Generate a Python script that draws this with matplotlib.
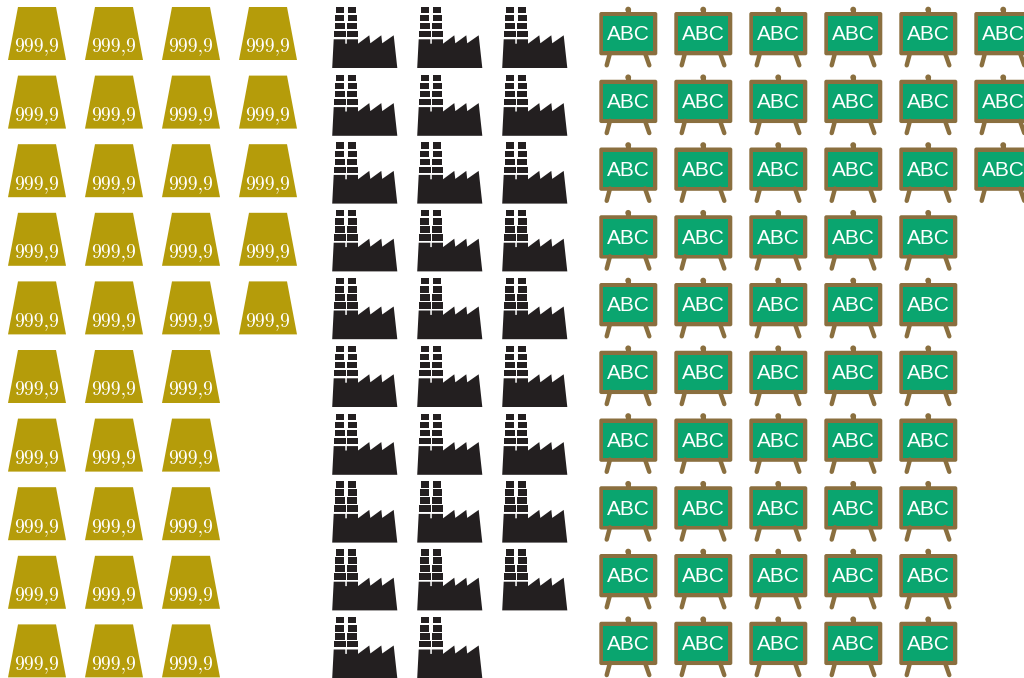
import matplotlib
matplotlib.use("Agg")
import matplotlib.pyplot as plt
from matplotlib.patches import Polygon, FancyBboxPatch, Circle, Rectangle

# Number of pictograms in each row, top to bottom
gold_counts = [4, 4, 4, 4, 4, 3, 3, 3, 3, 3]
factory_counts = [3, 3, 3, 3, 3, 3, 3, 3, 3, 2]
board_counts = [6, 6, 6, 5, 5, 5, 5, 5, 5, 5]
gold_label = "999,9"
board_label = "ABC"

GOLD = "#B59C0A"
BLACK = "#231F20"
WOOD = "#8A6F3F"
GREEN = "#0AA56F"

fig = plt.figure(figsize=(10.24, 6.78), dpi=100, facecolor="white")
ax = fig.add_axes([0, 0, 1, 1])
ax.set_xlim(0, 1024)
ax.set_ylim(678, 0)
ax.axis("off")


def poly(x, y, pts, color):
    ax.add_patch(Polygon([(x + a, y + b) for a, b in pts], closed=True,
                         facecolor=color, edgecolor="none"))


def gold(x, y):
    poly(x, y, [(0, 53), (10, 0), (48, 0), (58, 53)], GOLD)
    ax.text(x + 29, y + 44.6, gold_label, color="white", ha="center", va="baseline",
            family="cmr10", fontsize=14.2)


def factory(x, y):
    body = [(0.2, 61), (1.7, 32.3), (13.3, 32.3), (13.3, 36.7), (14.8, 36.7), (14.8, 32.3),
            (26, 32.3), (26, 36.7), (37.3, 28.3), (38.3, 36.3), (49.3, 28.3),
            (50.2, 36.3), (61.7, 28.3), (65.3, 61)]
    poly(x, y, body, BLACK)
    bricks = [(-0.2, 6.1, 4.0, 12.0, 15.7, 23.6), (7.9, 14.4, 3.4, 12.2, 15.6, 24.6),
              (15.9, 22.4, 2.7, 13.0, 15.0, 25.3), (23.9, 30.3, 2.0, 13.5, 14.5, 26.0)]
    for t, b, l1, r1, l2, r2 in bricks:
        for l, r in ((l1, r1), (l2, r2)):
            poly(x, y, [(l, t), (r, t), (r, b), (l, b)], BLACK)


def board(x, y):
    for x0, x1 in ((11, 7.7), (46, 50.3)):
        ax.plot([x + x0, x + x1], [y + 46, y + 58.3], color=WOOD, lw=3.2,
                solid_capstyle="round")
    ax.add_patch(Circle((x + 29.2, y + 2.6), 2.9, facecolor=WOOD, edgecolor="none"))
    ax.add_patch(Rectangle((x + 26.6, y + 2.6), 5.2, 4, facecolor=WOOD, edgecolor="none"))
    ax.add_patch(FancyBboxPatch((x + 0.3, y + 5), 58, 43.3,
                                boxstyle="round,pad=0,rounding_size=2",
                                facecolor=WOOD, edgecolor="none"))
    ax.add_patch(Rectangle((x + 4.3, y + 9), 50, 35.3, facecolor=GREEN, edgecolor="none"))
    ax.text(x + 29.8, y + 33.4, board_label, color="white", ha="center", va="baseline",
            family="Liberation Sans", fontsize=15)


for row, n in enumerate(gold_counts):
    for col in range(n):
        gold(8 + 77 * col, 7 + 68.6 * row)
for row, n in enumerate(factory_counts):
    for col in range(n):
        factory(332 + 85 * col, 7 + 67.8 * row)
for row, n in enumerate(board_counts):
    for col in range(n):
        board(599 + 75 * col, 7 + 67.75 * row)

fig.savefig("out.png", dpi=100)
